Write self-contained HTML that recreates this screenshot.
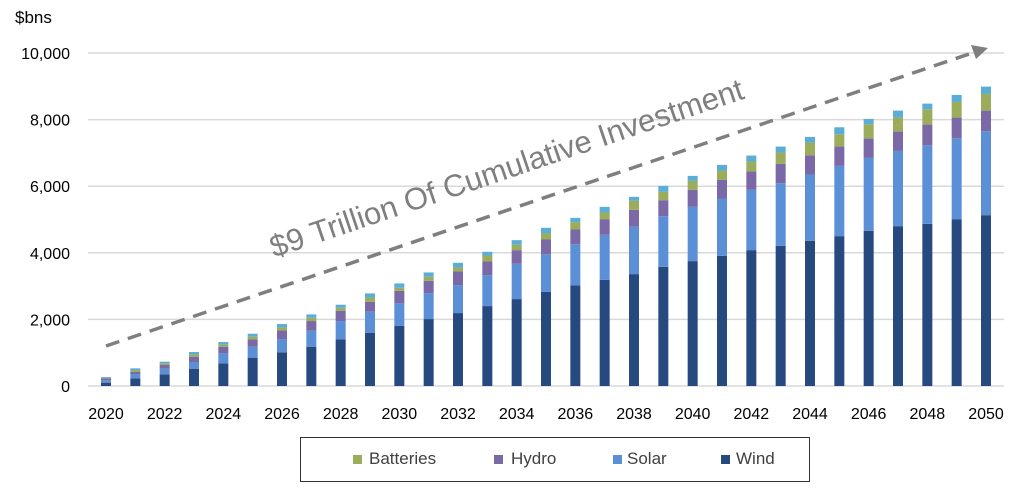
<!DOCTYPE html>
<html><head><meta charset="utf-8"><style>
body{margin:0;background:#fff;width:1024px;height:499px;overflow:hidden;font-family:"Liberation Sans",sans-serif}
svg text{font-family:"Liberation Sans",sans-serif}
</style></head><body>
<svg id="c" width="1024" height="499"></svg>
<script>
const years=[2020,2021,2022,2023,2024,2025,2026,2027,2028,2029,2030,2031,2032,2033,2034,2035,2036,2037,2038,2039,2040,2041,2042,2043,2044,2045,2046,2047,2048,2049,2050];
const wind=[100,230,350,520,680,850,1010,1180,1400,1600,1810,2010,2190,2400,2610,2830,3020,3190,3360,3580,3750,3910,4080,4210,4360,4500,4660,4800,4870,5000,5130];
const solar=[70,130,170,200,300,330,400,480,550,630,680,780,840,930,1060,1130,1240,1350,1420,1520,1630,1720,1810,1880,1990,2110,2190,2260,2360,2440,2520];
const hydro=[60,70,110,160,200,220,260,290,310,300,370,370,410,410,410,440,440,460,510,480,510,560,550,580,580,580,580,580,620,620,620];
const batteries=[15,50,50,70,70,80,90,100,90,130,90,120,120,180,160,180,220,210,270,250,270,280,300,340,380,370,430,420,460,470,500];
const other=[25,50,50,70,70,90,100,100,90,120,130,130,140,110,140,170,130,170,120,180,150,170,180,180,170,210,160,210,170,210,220];
const yTicks=[0,2000,4000,6000,8000,10000];
const xTickYears=[2020,2022,2024,2026,2028,2030,2032,2034,2036,2038,2040,2042,2044,2046,2048,2050];
const NS='http://www.w3.org/2000/svg';
const svg=document.getElementById('c');
const yS=v=>386-v/10000*333;
const xS=y=>106+(y-2020)*(880/30);
function mk(t,a,p){const e=document.createElementNS(NS,t);for(const k in a)e.setAttribute(k,a[k]);(p||svg).appendChild(e);return e;}
const g=mk('g',{});


yTicks.forEach(v=>{
  const l=mk('line',{x1:88,x2:1004,y1:yS(v),y2:yS(v),stroke:'#d9d9d9','stroke-width':1.5},g);
  
  
  const t=mk('text',{x:70,y:yS(v)+6,'text-anchor':'end','font-size':16,fill:'#000'});
  t.textContent=v.toLocaleString('en-US');
  
  
});
xTickYears.forEach(y=>{
  const t=mk('text',{x:xS(y),y:419,'text-anchor':'middle','font-size':16,fill:'#000'});
  t.textContent=y;
  
  
});
const series=[[wind,'#264a80','wind'],[solar,'#5b8fd6','solar'],[hydro,'#7b68a6','hydro'],[batteries,'#9bac5a','batteries'],[other,'#5aaed6','other']];
years.forEach((yr,i)=>{
  let base=0;
  series.forEach(([arr,col,nm])=>{
    const v=arr[i];
    const r=mk('rect',{x:xS(yr)-5,y:yS(base+v),width:10,height:yS(base)-yS(base+v),fill:col});
    
    
    base+=v;
  });
});
const ar=mk('line',{x1:106,y1:346,x2:975,y2:52,stroke:'#7f7f7f','stroke-width':3.5,'stroke-dasharray':'14,9'});


const ah=mk('polygon',{points:'988,48 971,45 976,59',fill:'#7f7f7f'});


const tt=mk('text',{x:510,y:178,'text-anchor':'middle','font-size':31,fill:'#7f7f7f',transform:'rotate(-18.7 510 178)'});
tt.textContent='$9 Trillion Of Cumulative Investment';


</script>
<div style="position:absolute;left:15px;top:8px;font-size:17px">$bns</div>
<div style="position:absolute;left:300px;top:437px;width:510px;height:45px;border:1.5px solid #333;box-sizing:border-box;font-size:17px;color:#404040">
  <div style="position:absolute;left:52px;top:11px"><span style="display:inline-block;width:9px;height:9px;background:#9bac5a;margin-right:7px"></span>Batteries</div>
  <div style="position:absolute;left:193px;top:11px"><span style="display:inline-block;width:9px;height:9px;background:#7b68a6;margin-right:8px"></span>Hydro</div>
  <div style="position:absolute;left:312px;top:11px"><span style="display:inline-block;width:9px;height:9px;background:#5b8fd6;margin-right:5px"></span>Solar</div>
  <div style="position:absolute;left:420px;top:11px"><span style="display:inline-block;width:9px;height:9px;background:#264a80;margin-right:6px"></span>Wind</div>
</div>
</body></html>
